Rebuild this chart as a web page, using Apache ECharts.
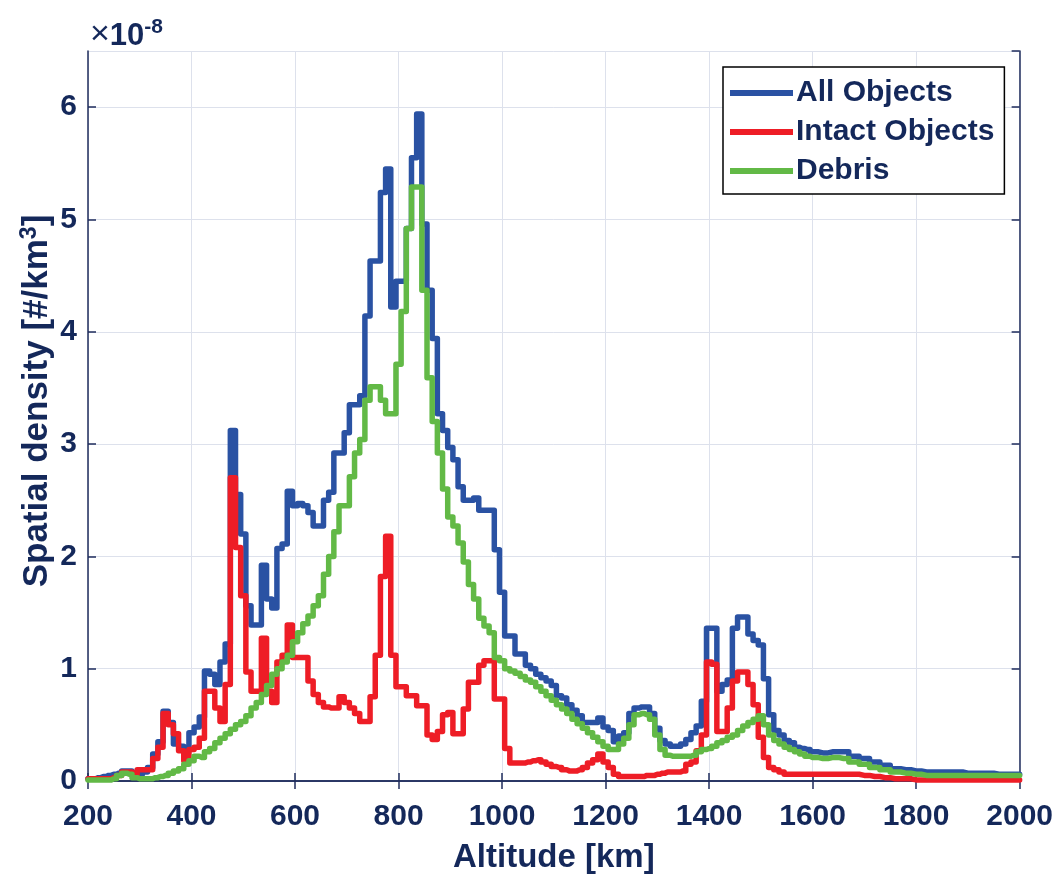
<!DOCTYPE html>
<html>
<head>
<meta charset="utf-8">
<title>Spatial density vs altitude</title>
<script src="https://cdn.jsdelivr.net/npm/echarts@6/dist/echarts.min.js"></script>
<style>
  html, body { margin: 0; padding: 0; background: #fff; }
  #chart { width: 1056px; height: 879px; }
</style>
</head>
<body>
<div id="chart"></div>
<script>
// altitude bins [km], 10 km up to 1600, 20 km after
var altitude = [
  200,210,220,230,240,250,260,270,280,290,
  300,310,320,330,340,350,360,370,380,390,
  400,410,420,430,440,450,460,470,480,490,
  500,510,520,530,540,550,560,570,580,590,
  600,610,620,630,640,650,660,670,680,690,
  700,710,720,730,740,750,760,770,780,790,
  800,810,820,830,840,850,860,870,880,890,
  900,910,920,930,940,950,960,970,980,990,
  1000,1010,1020,1030,1040,1050,1060,1070,1080,1090,
  1100,1110,1120,1130,1140,1150,1160,1170,1180,1190,
  1200,1210,1220,1230,1240,1250,1260,1270,1280,1290,
  1300,1310,1320,1330,1340,1350,1360,1370,1380,1390,
  1400,1410,1420,1430,1440,1450,1460,1470,1480,1490,
  1500,1510,1520,1530,1540,1550,1560,1570,1580,1590,
  1600,
  1620,1640,1660,1680,1700,1720,1740,1760,1780,1800,
  1820,1840,1860,1880,1900,1920,1940,1960,1980,2000
];

// spatial density, in units of 1e-8 #/km^3
var allObjects = [
  0.02,0.02,0.03,0.04,0.05,0.06,0.07,0.09,0.09,0.07,
  0.06,0.08,0.12,0.24,0.35,0.62,0.52,0.33,0.31,0.27,
  0.43,0.48,0.57,0.98,0.95,0.86,1.06,1.22,3.12,2.55,
  2.20,1.56,1.39,1.39,1.92,1.62,1.54,2.07,2.11,2.58,
  2.45,2.47,2.45,2.39,2.27,2.27,2.50,2.57,2.92,2.92,
  3.10,3.35,3.35,3.43,4.14,4.63,4.63,5.24,5.45,4.22,
  4.45,4.45,4.92,5.55,5.94,4.96,4.37,3.94,3.27,3.12,
  2.97,2.86,2.62,2.50,2.50,2.52,2.41,2.41,2.41,2.06,
  1.68,1.29,1.29,1.13,1.13,1.03,1.00,0.95,0.92,0.89,
  0.85,0.76,0.74,0.68,0.63,0.58,0.52,0.52,0.52,0.56,
  0.48,0.45,0.35,0.40,0.43,0.60,0.65,0.66,0.66,0.60,
  0.47,0.36,0.33,0.31,0.31,0.33,0.37,0.43,0.49,0.71,
  1.36,1.36,0.80,0.86,0.90,1.36,1.46,1.46,1.31,1.25,
  1.21,0.91,0.59,0.45,0.41,0.36,0.34,0.30,0.29,0.28,
  0.26,
  0.25,0.26,0.26,0.22,0.20,0.17,0.14,0.11,0.10,0.09,
  0.08,0.08,0.08,0.08,0.07,0.07,0.07,0.06,0.06,0.06
];

var intactObjects = [
  0.02,0.02,0.02,0.02,0.02,0.03,0.05,0.08,0.08,0.06,
  0.10,0.10,0.10,0.20,0.30,0.60,0.50,0.42,0.27,0.18,
  0.28,0.30,0.38,0.80,0.80,0.65,0.53,0.86,2.70,2.08,
  1.65,0.97,0.80,0.80,1.27,0.80,0.70,1.06,1.12,1.39,
  1.10,1.10,1.10,0.89,0.77,0.70,0.66,0.65,0.65,0.75,
  0.70,0.65,0.60,0.53,0.53,0.75,1.12,1.82,2.18,1.12,
  0.84,0.84,0.76,0.76,0.67,0.67,0.41,0.37,0.44,0.59,
  0.61,0.42,0.42,0.64,0.88,0.88,1.03,1.07,1.07,0.73,
  0.73,0.29,0.16,0.16,0.16,0.17,0.18,0.19,0.17,0.15,
  0.13,0.12,0.10,0.09,0.09,0.10,0.12,0.16,0.19,0.24,
  0.17,0.12,0.06,0.04,0.04,0.04,0.04,0.04,0.05,0.05,
  0.06,0.07,0.08,0.08,0.08,0.09,0.15,0.17,0.27,0.41,
  1.06,1.04,0.44,0.44,0.65,0.89,0.97,0.97,0.86,0.68,
  0.39,0.21,0.12,0.10,0.08,0.06,0.06,0.06,0.06,0.06,
  0.06,
  0.06,0.06,0.06,0.06,0.05,0.04,0.03,0.02,0.02,0.01,
  0.01,0.01,0.01,0.01,0.01,0.01,0.01,0.01,0.01,0.01
];

var debris = [
  0.01,0.01,0.01,0.01,0.01,0.02,0.05,0.07,0.06,0.03,
  0.02,0.02,0.02,0.03,0.04,0.05,0.07,0.09,0.11,0.15,
  0.18,0.22,0.21,0.26,0.29,0.34,0.38,0.42,0.46,0.50,
  0.53,0.58,0.65,0.70,0.77,0.85,0.95,1.00,1.06,1.12,
  1.24,1.32,1.40,1.47,1.56,1.65,1.84,2.00,2.22,2.45,
  2.45,2.71,2.92,3.04,3.39,3.51,3.51,3.39,3.27,3.27,
  3.71,4.18,4.92,5.29,5.29,4.37,3.59,3.20,2.92,2.60,
  2.35,2.27,2.12,1.95,1.75,1.62,1.45,1.38,1.32,1.10,
  1.07,1.00,0.98,0.96,0.93,0.90,0.88,0.84,0.80,0.76,
  0.72,0.68,0.64,0.60,0.55,0.51,0.47,0.43,0.39,0.35,
  0.31,0.28,0.28,0.33,0.38,0.50,0.59,0.60,0.59,0.55,
  0.41,0.28,0.23,0.22,0.22,0.22,0.22,0.23,0.26,0.28,
  0.29,0.31,0.34,0.36,0.39,0.41,0.45,0.49,0.52,0.55,
  0.58,0.50,0.41,0.36,0.33,0.30,0.28,0.26,0.24,0.22,
  0.21,
  0.20,0.21,0.20,0.17,0.15,0.12,0.10,0.08,0.07,0.06,
  0.05,0.05,0.05,0.05,0.05,0.05,0.05,0.05,0.05,0.05
];

var seriesNames = ['All Objects', 'Intact Objects', 'Debris'];
var seriesColors = ['#2a52a3', '#ee1d26', '#62b946'];

var textColor = '#14285a';
var font = 'Liberation Sans, Arial, sans-serif';

function pairs(values) {
  return altitude.map(function (a, i) { return [a, values[i]]; });
}

var chart = echarts.init(document.getElementById('chart'));

var axisLine = { show: true, lineStyle: { color: '#1f2d5c', width: 1.5 } };
var tick = { show: true, inside: true, length: 8, lineStyle: { color: '#1f2d5c', width: 1.5 } };

var option = {
  backgroundColor: '#fff',
  animation: false,
  textStyle: { fontFamily: font },
  grid: { left: 88, right: 36, top: 51, bottom: 92 },
  legend: {
    orient: 'vertical',
    left: 723,
    top: 67,
    padding: [11, 10, 8, 7],
    itemGap: 9,
    itemWidth: 63,
    itemHeight: 6,
    icon: 'rect',
    backgroundColor: '#fff',
    borderColor: '#000',
    borderWidth: 1.5,
    borderRadius: 0,
    textStyle: { color: textColor, fontSize: 30, fontWeight: 'bold', fontFamily: font, lineHeight: 30, padding: [0, 0, 0, -2] },
    data: seriesNames
  },
  graphic: [{
    type: 'text',
    left: 90,
    top: 17,
    style: {
      text: '{x|×}{t|10}{e|-8}',
      fill: textColor,
      rich: {
        x: { fontSize: 34, fontWeight: 'normal', fill: textColor, fontFamily: font, verticalAlign: 'bottom' },
        t: { fontSize: 31, fontWeight: 'bold', fill: textColor, fontFamily: font, verticalAlign: 'bottom' },
        e: { fontSize: 21, fontWeight: 'bold', fill: textColor, fontFamily: font, verticalAlign: 'top', padding: [0, 0, 14, 0] }
      }
    }
  }],
  xAxis: [{
    type: 'value',
    min: 200,
    max: 2000,
    interval: 200,
    name: 'Altitude [km]',
    nameLocation: 'middle',
    nameGap: 60,
    nameTextStyle: { color: textColor, fontSize: 33, fontWeight: 'bold', fontFamily: font },
    axisLine: axisLine,
    axisTick: tick,
    axisLabel: { color: textColor, fontSize: 30, fontWeight: 'bold', fontFamily: font, margin: 21, formatter: function (v) { return String(v); } },
    splitLine: { show: true, lineStyle: { color: '#dde1ec', width: 1 } }
  }, {
    type: 'value',
    position: 'top',
    min: 200,
    max: 2000,
    interval: 200,
    axisLine: axisLine,
    axisTick: tick,
    axisLabel: { show: false },
    splitLine: { show: false }
  }],
  yAxis: [{
    type: 'value',
    min: 0,
    max: 6.5,
    interval: 1,
    name: 'Spatial density [#/km{s|3}]',
    nameLocation: 'middle',
    nameGap: 32,
    nameMoveOverlap: false,
    nameTextStyle: {
      color: textColor, fontSize: 35, fontWeight: 'bold', fontFamily: font,
      padding: [0, 0, 0, 30],
      rich: {
        s: { fontSize: 23, fontWeight: 'bold', color: textColor, fontFamily: font, verticalAlign: 'top', padding: [0, 0, 15, 0] }
      }
    },
    axisLine: axisLine,
    axisTick: tick,
    axisLabel: { color: textColor, fontSize: 30, fontWeight: 'bold', fontFamily: font, margin: 11, showMaxLabel: false },
    splitLine: { show: true, lineStyle: { color: '#dde1ec', width: 1 } }
  }, {
    type: 'value',
    position: 'right',
    min: 0,
    max: 6.5,
    interval: 1,
    axisLine: axisLine,
    axisTick: tick,
    axisLabel: { show: false },
    splitLine: { show: false }
  }],
  series: [allObjects, intactObjects, debris].map(function (vals, i) {
    return {
      name: seriesNames[i],
      type: 'line',
      step: 'middle',
      showSymbol: false,
      symbol: 'none',
      lineStyle: { color: seriesColors[i], width: 5.5, join: 'round', cap: 'round' },
      itemStyle: { color: seriesColors[i] },
      data: pairs(vals)
    };
  })
};

chart.setOption(option);
</script>
</body>
</html>
